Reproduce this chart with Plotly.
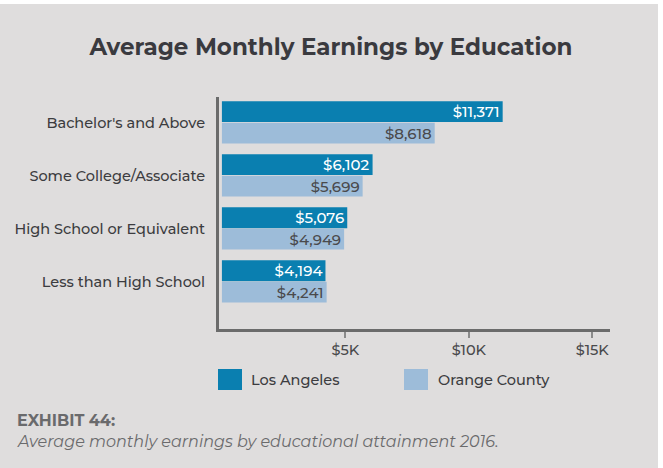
import plotly.graph_objects as go

categories = ["Bachelor's and Above", "Some College/Associate", "High School or Equivalent", "Less than High School"]
los_angeles = [11371, 6102, 5076, 4194]
orange_county = [8618, 5699, 4949, 4241]
tick_vals = [5000, 10000, 15000]
tick_text = ["$5K", "$10K", "$15K"]

W, H = 663, 468
BG = "#dfdddd"
LA_C = "#0a7fb0"
OC_C = "#9dbcd9"
FONT = "Montserrat, 'Open Sans', sans-serif"

def fmt(v):
    return "${:,}".format(v)

fig = go.Figure()
fig.add_trace(go.Bar(
    y=categories, x=los_angeles, orientation="h", name="Los Angeles",
    marker=dict(color=LA_C, line=dict(width=0)),
    text=[fmt(v) for v in los_angeles], textposition="inside", insidetextanchor="end",
    constraintext="none",
    textfont=dict(color="white", size=15, family=FONT, weight=500), cliponaxis=False,
))
fig.add_trace(go.Bar(
    y=categories, x=orange_county, orientation="h", name="Orange County",
    marker=dict(color=OC_C, line=dict(width=0)),
    text=[fmt(v) for v in orange_county], textposition="inside", insidetextanchor="end",
    constraintext="none",
    textfont=dict(color="#4a4a4c", size=15, family=FONT, weight=500), cliponaxis=False,
))

ml, mr, mt, mb = 219, 53, 97, 139
pw = W - ml - mr
ph = H - mt - mb

def xp(pxv):
    return (pxv - ml) / pw

def yp(pyv):
    return (H - mb - pyv) / ph

fig.update_layout(
    width=W, height=H,
    paper_bgcolor=BG, plot_bgcolor=BG,
    margin=dict(l=ml, r=mr, t=mt, b=mb, pad=0),
    barmode="group", bargap=0.19, bargroupgap=0.03,
    showlegend=False,
    font=dict(family=FONT, color="#3c3c40"),
    title=dict(text="<b>Average Monthly Earnings by Education</b>", x=331 / W, xanchor="center",
               xref="container", y=1 - 47 / H, yanchor="middle", yref="container",
               font=dict(size=23, color="#3a3a3f", family=FONT)),
    xaxis=dict(range=[-118, 15718], tickvals=tick_vals, ticktext=tick_text,
               showgrid=False, zeroline=False, showline=True, linecolor="#6b6b6b", linewidth=3,
               ticks="outside", ticklen=6, tickwidth=1.5, tickcolor="#8a8a8a",
               tickfont=dict(size=14.5, color="#4a4a4c", family=FONT, weight=500), fixedrange=True),
    yaxis=dict(categoryorder="array", categoryarray=categories, range=[3.897, -0.48],
               showgrid=False, zeroline=False, showline=True, linecolor="#6b6b6b", linewidth=3,
               ticks="", ticklabelstandoff=8,
               tickfont=dict(size=14.5, color="#3c3c40", family=FONT, weight=500), fixedrange=True),
)

shapes = [
    # white frame strips (top and right)
    dict(type="rect", xref="paper", yref="paper", x0=xp(0), x1=xp(W), y0=yp(4), y1=yp(0),
         fillcolor="white", line=dict(width=0), layer="below"),
    dict(type="rect", xref="paper", yref="paper", x0=xp(658), x1=xp(W), y0=yp(H), y1=yp(0),
         fillcolor="white", line=dict(width=0), layer="below"),
    # legend swatches
    dict(type="rect", xref="paper", yref="paper", x0=xp(218), x1=xp(242), y0=yp(390), y1=yp(369),
         fillcolor=LA_C, line=dict(width=0)),
    dict(type="rect", xref="paper", yref="paper", x0=xp(404), x1=xp(428), y0=yp(390), y1=yp(369),
         fillcolor=OC_C, line=dict(width=0)),
]
fig.update_layout(shapes=shapes)

annotations = [
    dict(text="Los Angeles", xref="paper", yref="paper", x=xp(249), y=yp(380), xanchor="left", yanchor="middle",
         showarrow=False, font=dict(size=14.5, color="#3c3c40", family=FONT, weight=500)),
    dict(text="Orange County", xref="paper", yref="paper", x=xp(436), y=yp(380), xanchor="left", yanchor="middle",
         showarrow=False, font=dict(size=14.5, color="#3c3c40", family=FONT, weight=500)),
    dict(text="<b>EXHIBIT 44:</b>", xref="paper", yref="paper", x=xp(15), y=yp(420), xanchor="left", yanchor="middle",
         showarrow=False, font=dict(size=16, color="#6a6a6c", family=FONT)),
    dict(text="<i>Average monthly earnings by educational attainment 2016.</i>", xref="paper", yref="paper",
         x=xp(15), y=yp(441), xanchor="left", yanchor="middle",
         showarrow=False, font=dict(size=16, color="#6a6a6c", family=FONT)),
]
fig.update_layout(annotations=annotations)

fig.write_html("out.html", config={"displayModeBar": False},
               post_script="document.body.style.margin='0';document.body.style.overflow='hidden';")
